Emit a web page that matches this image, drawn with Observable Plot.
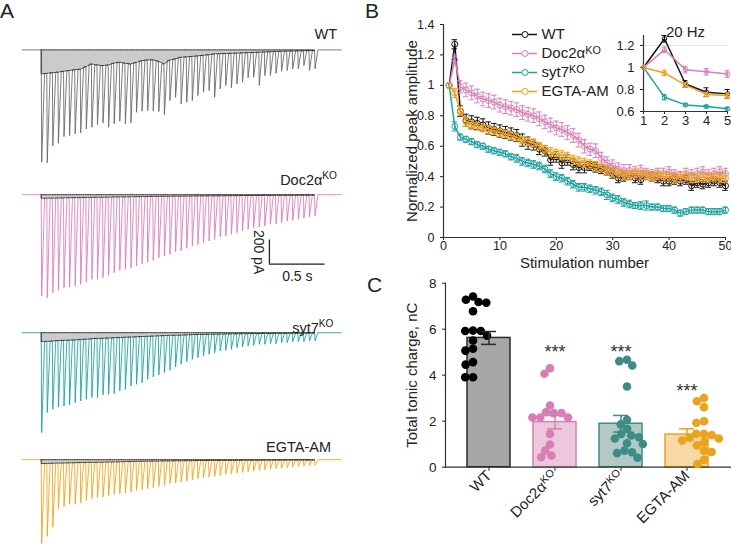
<!DOCTYPE html>
<html><head><meta charset="utf-8">
<script src="https://cdn.jsdelivr.net/npm/d3@7"></script>
<script src="https://cdn.jsdelivr.net/npm/@observablehq/plot@0.6"></script>
<style>
body{margin:0;background:#fff;}
#fig{position:relative;width:731px;height:544px;overflow:hidden;font-family:"Liberation Sans",Arial,Helvetica,sans-serif;color:#222;}
.lbl{position:absolute;font-size:14.5px;line-height:1;white-space:nowrap;}
.panel{position:absolute;font-size:21px;line-height:1;}
sup{font-size:0.7em;line-height:0;vertical-align:0.55em;}
#fig g[aria-label="x-axis label"] text,#fig g[aria-label="y-axis label"] text{font-size:15px;}
</style></head><body><div id="fig"></div>
<script>
// ---------------- DATA ----------------
const groups = ["WT", "Doc2αKO", "syt7KO", "EGTA-AM"];

// Panel A: peak amplitudes (pA) of the 50 responses and tonic (trough) level before each (pA)
const wtPeak = [936,941,800,778,722,714,700,691,658,645, 622,608,645,616,595,616,608,520,511,506,
  511,514,541,422,395,450,436,422,381,353, 339,395,325,297,316,283,270,233,228,297,
  214,214,195,178,172,158,158,131,172,158];
const wtTonic = [200,195,190,185,178,172,165,160,140,117, 125,131,125,110,103,110,117,105,90,83,
  83,95,117,85,75,61,58,54,50,45, 40,33,31,30,28,26,25,23,21,19, 17,15,13,11,10,9,8,7,6,6];
const doc2Peak = [844,858,816,797,775,769,761,747,725,705, 705,691,672,650,630,622,614,594,575,561,
  547,525,511,497,477,469,447,427,413,400, 386,372,352,344,330,317,302,288,275,269,
  261,247,242,233,219,213,205,197,186,177];
const doc2Tonic = [30,29,28,27,26,25,24,24,23,22, 21,21,20,19,18,18,17,16,16,15,
  14,14,13,13,12,12,11,11,10,10, 9,9,9,8,8,8,7,7,7,6, 6,6,5,5,5,5,4,4,4,4];
const syt7Peak = [833,666,638,619,611,602,583,569,555,541, 541,519,513,508,486,472,444,430,417,388,
  369,352,333,313,286,263,242,222,208,194, 180,167,152,147,138,125,119,111,105,97,
  97,92,92,83,83,75,75,75,69,69];
const syt7Tonic = [75,72,69,66,64,62,60,57,54,50, 48,46,44,42,40,38,36,34,32,30,
  28,26,24,22,21,20,18,16,15,14, 13,12,11,10,9,9,8,8,7,7, 6,6,5,5,5,4,4,4,3,3];
const egtaPeak = [700,639,561,408,389,372,372,361,339,325, 317,311,297,289,283,278,270,256,250,242,
  233,222,214,200,195,187,178,167,158,150, 145,139,131,122,117,111,106,100,95,89,
  83,78,75,70,67,62,56,53,50,47];
const egtaTonic = [33,31,29,28,27,26,25,24,23,22, 21,20,19,18,17,16,15,14,13,12,
  12,11,10,10,9,9,8,8,7,7, 6,6,6,5,5,5,4,4,4,4, 3,3,3,3,2,2,2,2,2,2];
const stimHz = 20;
const scaleBar = {t0: 2.045, top: -378, pA: 200, sec: 0.5};

// Panel B: normalized peak amplitude, stimulation 1..50
const stimNumber = d3.range(1, 51);
const wtAmp = [1.00,1.27,0.83,0.77,0.76,0.75,0.74,0.72,0.71,0.70, 0.69,0.68,0.67,0.64,0.62,0.61,0.58,0.57,0.51,0.53,
  0.49,0.51,0.48,0.46,0.46,0.47,0.46,0.45,0.44,0.42, 0.39,0.40,0.41,0.39,0.38,0.41,0.40,0.39,0.37,0.37,
  0.38,0.37,0.38,0.34,0.36,0.35,0.36,0.37,0.36,0.34];
const doc2Amp = [1.00,1.17,0.99,0.97,0.95,0.93,0.91,0.90,0.89,0.87, 0.86,0.85,0.84,0.82,0.81,0.80,0.78,0.76,0.74,0.72,
  0.71,0.69,0.67,0.64,0.60,0.58,0.57,0.52,0.49,0.47, 0.45,0.44,0.44,0.43,0.44,0.42,0.41,0.42,0.42,0.43,
  0.41,0.40,0.42,0.41,0.42,0.43,0.41,0.42,0.43,0.42];
const syt7Amp = [1.00,0.73,0.66,0.645,0.63,0.61,0.60,0.58,0.57,0.56, 0.55,0.53,0.52,0.50,0.49,0.48,0.47,0.45,0.42,0.40,
  0.39,0.37,0.35,0.33,0.33,0.32,0.31,0.30,0.28,0.26, 0.25,0.23,0.22,0.21,0.21,0.21,0.20,0.20,0.19,0.19,
  0.18,0.16,0.17,0.18,0.18,0.18,0.17,0.17,0.17,0.18];
const egtaAmp = [1.00,0.95,0.83,0.76,0.74,0.73,0.72,0.71,0.70,0.69, 0.68,0.67,0.66,0.64,0.63,0.62,0.60,0.58,0.56,0.55,
  0.54,0.53,0.51,0.50,0.49,0.48,0.47,0.46,0.44,0.43, 0.42,0.41,0.41,0.42,0.41,0.41,0.40,0.41,0.40,0.40,
  0.39,0.40,0.40,0.39,0.39,0.40,0.39,0.40,0.39,0.39];
const wtErr = [0,0.03,0.035,0.04,0.04,0.04,0.04,0.04,0.04,0.04, 0.04,0.04,0.04,0.04,0.04,0.035,0.035,0.035,0.035,0.035,
  0.035,0.035,0.035,0.035,0.035,0.03,0.03,0.03,0.03,0.03, 0.03,0.03,0.03,0.03,0.03,0.03,0.03,0.03,0.03,0.03,
  0.03,0.03,0.03,0.03,0.03,0.03,0.03,0.03,0.03,0.03];
const doc2Err = [0,0.03,0.04,0.045,0.045,0.045,0.045,0.045,0.045,0.045, 0.045,0.045,0.045,0.045,0.045,0.045,0.045,0.045,0.045,0.045,
  0.045,0.045,0.045,0.045,0.045,0.04,0.045,0.04,0.04,0.04, 0.04,0.04,0.04,0.035,0.035,0.035,0.035,0.035,0.035,0.035,
  0.035,0.035,0.035,0.035,0.035,0.035,0.035,0.035,0.035,0.035];
const syt7Err = [0,0.03,0.02,0.02,0.02,0.02,0.02,0.02,0.02,0.02, 0.02,0.02,0.025,0.025,0.025,0.025,0.025,0.025,0.025,0.025,
  0.025,0.025,0.025,0.025,0.025,0.025,0.025,0.025,0.03,0.025, 0.025,0.025,0.025,0.02,0.025,0.03,0.02,0.02,0.02,0.02,
  0.02,0.02,0.02,0.02,0.02,0.02,0.02,0.02,0.02,0.02];
const egtaErr = [0,0.03,0.03,0.03,0.03,0.025,0.025,0.025,0.025,0.025, 0.025,0.025,0.025,0.025,0.025,0.025,0.025,0.025,0.03,0.03,
  0.03,0.03,0.03,0.03,0.03,0.03,0.03,0.03,0.03,0.03, 0.03,0.03,0.03,0.03,0.03,0.03,0.03,0.03,0.03,0.03,
  0.03,0.03,0.03,0.03,0.03,0.03,0.03,0.03,0.03,0.03];

// Panel B inset (20 Hz, first 5 stimuli)
const insetStim = [1, 2, 3, 4, 5];
const insetWT = [1, 1.26, 0.85, 0.775, 0.76];
const insetDoc2 = [1, 1.16, 0.98, 0.96, 0.94];
const insetSyt7 = [1, 0.73, 0.66, 0.645, 0.625];
const insetEGTA = [1, 0.95, 0.84, 0.755, 0.745];
const insetWTErr = [0, 0.03, 0.03, 0.04, 0.04];
const insetDoc2Err = [0, 0.025, 0.03, 0.03, 0.03];
const insetSyt7Err = [0, 0.025, 0.012, 0.012, 0.012];
const insetEGTAErr = [0, 0.025, 0.02, 0.02, 0.025];

// Panel C: total tonic charge (nC)
const wtDots = [7.42,7.28,7.18,7.15,6.78,5.94,5.92,5.92,5.72,5.51,5.15,5.07,4.57,4.46,3.91,3.91];
const doc2Dots = [4.30,4.06,2.68,2.39,2.35,2.35,2.16,2.16,2.16,1.45,0.99,0.72,0.51,0.43];
const syt7Dots = [4.67,4.61,4.42,3.51,2.06,1.86,1.67,1.45,1.38,1.30,1.25,1.04,1.01,0.72,0.65,0.61,0.41];
const egtaDots = [3.01,2.87,2.61,2.00,1.93,1.45,1.45,1.40,1.28,1.25,1.16,1.09,0.95,0.72,0.66,0.32,0.14];
const barMeans = [5.62, 1.96, 1.89, 1.42];
const barSems = [0.28, 0.29, 0.36, 0.25];
const stars = ["", "***", "***", "***"];
const starY = [null, 5.02, 5.02, 3.32];

// ---------------- STYLE ----------------
const FONT = '"Liberation Sans", Arial, Helvetica, sans-serif';
const traceColors = ["#666666", "#d97ab6", "#179f9c", "#efa214"];
const lineColors = ["#111111", "#d97fb8", "#1fa3a0", "#f0a11c"];
const barFill = ["#a8a7a8", "#edc8dd", "#b3c9c6", "#f8d8a5"];
const barStroke = ["#2b2b2b", "#d57fb3", "#3f8c86", "#eda120"];
const dotColors = ["#000000", "#d77fb5", "#3d8c86", "#eba21c"];
const baseStyle = {fontFamily: FONT, fontSize: "12.5px", color: "#222", background: "transparent", overflow: "visible"};

const fig = document.getElementById("fig");
function place(node, left, top) {
  node.style.position = "absolute";
  node.style.left = left + "px";
  node.style.top = top + "px";
  fig.appendChild(node);
  return node;
}
function addDiv(cls, html, css) {
  const d = document.createElement("div");
  d.className = cls; d.innerHTML = html;
  Object.assign(d.style, css);
  fig.appendChild(d);
}
function superscriptKO(svg) {
  svg.querySelectorAll("text").forEach(t => {
    if (t.children.length) return;
    const s = t.textContent, i = s.indexOf("KO");
    if (i > 0) {
      t.textContent = s.slice(0, i);
      const ts = document.createElementNS("http://www.w3.org/2000/svg", "tspan");
      ts.setAttribute("dy", "-0.42em");
      ts.setAttribute("font-size", "0.72em");
      ts.textContent = "KO";
      t.appendChild(ts);
    }
  });
  return svg;
}

// ---------------- PANEL A ----------------
const PX_PER_PA = 0.12;
const PRE_START = -0.17, POST_END = 2.69, RISE = 0.004, DECAY = 0.03;
const traceSets = [
  {peak: wtPeak, tonic: wtTonic, baseline: 49.3, hi: 120, lo: -1000},
  {peak: doc2Peak, tonic: doc2Tonic, baseline: 193.7, hi: 60, lo: -900},
  {peak: syt7Peak, tonic: syt7Tonic, baseline: 331.7, hi: 60, lo: -900},
  {peak: egtaPeak, tonic: egtaTonic, baseline: 459.3, hi: 60, lo: -705}
];
function traceRows(peak, tonic) {
  const rows = [{t: PRE_START, v: 0}, {t: 0, v: 0}];
  const n = peak.length;
  for (let k = 0; k < n; k++) {
    const t = k / stimHz;
    if (k > 0) rows.push({t, v: -tonic[k]});
    rows.push({t: t + RISE, v: -peak[k]});
    rows.push({t: t + DECAY, v: k < n - 1 ? -tonic[k + 1] : 0});
  }
  rows.push({t: POST_END, v: 0});
  return rows;
}
traceSets.forEach((s, i) => {
  const pts = s.tonic.map((v, k) => ({t: k / stimHz, v: -v}));
  const tEnd = (s.tonic.length - 1) / stimHz;
  const outline = [{t: 0, v: 0}, {t: tEnd, v: 0}, ...pts.slice().reverse(), {t: 0, v: 0}];
  const marks = [
    Plot.areaY(pts, {x: "t", y1: 0, y2: "v", fill: "#cbcbcb"}),
    Plot.line(traceRows(s.peak, s.tonic), {x: "t", y: "v", stroke: traceColors[i], strokeWidth: 0.85}),
    Plot.line(outline, {x: "t", y: "v", stroke: "#222", strokeWidth: 0.9, strokeDasharray: "1.2,1"})
  ];
  if (i === 1) {
    marks.push(
      Plot.ruleX([scaleBar], {x: "t0", y1: "top", y2: d => d.top - d.pA, stroke: "#222", strokeWidth: 1.3}),
      Plot.ruleY([scaleBar], {y: d => d.top - d.pA, x1: "t0", x2: d => d.t0 + d.sec, stroke: "#222", strokeWidth: 1.3}),
      Plot.text([scaleBar], {x: "t0", y: d => d.top - d.pA / 2, dx: -11, rotate: 90, text: d => `${d.pA} pA`, fontSize: 14, fill: "#222"}),
      Plot.text([scaleBar], {x: d => d.t0 + d.sec / 2, y: d => d.top - d.pA, dy: 12, text: d => `${d.sec} s`, fontSize: 14, fill: "#222"})
    );
  }
  const svg = Plot.plot({
    width: 360, height: (s.hi - s.lo) * PX_PER_PA,
    marginLeft: 18.4, marginRight: 18, marginTop: 0, marginBottom: 0,
    style: baseStyle,
    x: {domain: [-0.2, 2.7], axis: null},
    y: {domain: [s.lo, s.hi], axis: null},
    marks
  });
  place(svg, 0, s.baseline - s.hi * PX_PER_PA);
});
addDiv("lbl", "WT", {right: "394px", top: "27.4px"});
addDiv("lbl", "Doc2α<sup>KO</sup>", {right: "394px", top: "173px"});
addDiv("lbl", "syt7<sup>KO</sup>", {right: "397.5px", top: "320.5px"});
addDiv("lbl", "EGTA-AM", {right: "400px", top: "439.8px"});

// ---------------- PANEL B ----------------
const bVals = [wtAmp, doc2Amp, syt7Amp, egtaAmp];
const bErrs = [wtErr, doc2Err, syt7Err, egtaErr];
const bMarks = [Plot.ruleX([0], {stroke: "#333", strokeWidth: 1.2}), Plot.ruleY([0], {stroke: "#333", strokeWidth: 1.2})];
groups.forEach((g, i) => {
  const rows = stimNumber.map((n, k) => ({n, v: bVals[i][k], e: bErrs[i][k]}));
  const er = rows.filter(d => d.e > 0);
  bMarks.push(
    Plot.ruleX(er, {x: "n", y1: d => d.v - d.e, y2: d => d.v + d.e, stroke: lineColors[i], strokeWidth: 1}),
    Plot.ruleY(er, {y: d => d.v + d.e, x1: d => d.n - 0.5, x2: d => d.n + 0.5, stroke: lineColors[i], strokeWidth: 1}),
    Plot.ruleY(er, {y: d => d.v - d.e, x1: d => d.n - 0.5, x2: d => d.n + 0.5, stroke: lineColors[i], strokeWidth: 1}),
    Plot.line(rows, {x: "n", y: "v", stroke: lineColors[i], strokeWidth: 1.5}),
    Plot.dot(rows, {x: "n", y: "v", r: 3, stroke: lineColors[i], strokeWidth: 1, fill: "none"})
  );
});
const fmt = d => String(+(+d).toFixed(2));
const bMain = Plot.plot({
  width: 371, height: 280, marginLeft: 83, marginRight: 6, marginTop: 24, marginBottom: 43,
  style: baseStyle,
  x: {domain: [0, 50], ticks: [0, 10, 20, 30, 40, 50], tickFormat: fmt, tickSize: 3, tickPadding: 1, label: "Stimulation number", labelAnchor: "center", labelOffset: 30, labelArrow: "none"},
  y: {domain: [0, 1.4], ticks: [0, 0.2, 0.4, 0.6, 0.8, 1, 1.2, 1.4], tickFormat: fmt, tickSize: 3, label: "Normalized peak amplitude", labelAnchor: "center", labelOffset: 37, labelArrow: "none"},
  marks: bMarks
});
place(bMain, 360, 0);

// legend
const legend = Plot.plot({
  width: 130, height: 88, marginLeft: 7, marginRight: 98, marginTop: 14, marginBottom: 17,
  style: baseStyle,
  x: {domain: [0, 1], axis: null},
  y: {domain: groups, type: "point", padding: 0, axis: null},
  color: {domain: groups, range: lineColors},
  marks: [
    Plot.ruleY(groups, {y: d => d, x1: 0, x2: 1, stroke: d => d, strokeWidth: 1.5}),
    Plot.dot(groups, {x: 0.5, y: d => d, r: 3, stroke: d => d, fill: "white", strokeWidth: 1}),
    Plot.text(groups, {x: 1, y: d => d, text: d => d, dx: 4, textAnchor: "start", fontSize: 15, fill: "#222"})
  ]
});
place(superscriptKO(legend), 505, 20);

// inset
const iVals = [insetWT, insetDoc2, insetSyt7, insetEGTA];
const iErrs = [insetWTErr, insetDoc2Err, insetSyt7Err, insetEGTAErr];
const iMarks = [Plot.ruleY([1.2], {stroke: "#e2e2e2", strokeWidth: 1}),
  Plot.ruleX([1], {stroke: "#333", strokeWidth: 1.2}), Plot.ruleY([0.6], {stroke: "#333", strokeWidth: 1.2})];
groups.forEach((g, i) => {
  const rows = insetStim.map((n, k) => ({n, v: iVals[i][k], e: iErrs[i][k]}));
  const er = rows.filter(d => d.e > 0);
  iMarks.push(
    Plot.ruleX(er, {x: "n", y1: d => d.v - d.e, y2: d => d.v + d.e, stroke: lineColors[i], strokeWidth: 1}),
    Plot.ruleY(er, {y: d => d.v + d.e, x1: d => d.n - 0.12, x2: d => d.n + 0.12, stroke: lineColors[i], strokeWidth: 1}),
    Plot.ruleY(er, {y: d => d.v - d.e, x1: d => d.n - 0.12, x2: d => d.n + 0.12, stroke: lineColors[i], strokeWidth: 1}),
    Plot.line(rows, {x: "n", y: "v", stroke: lineColors[i], strokeWidth: 1.5}),
    Plot.dot(rows, {x: "n", y: "v", r: 2.2, stroke: lineColors[i], strokeWidth: 1, fill: "none"})
  );
});
iMarks.push(Plot.text(["20 Hz"], {frameAnchor: "top", dy: -9, text: d => d, fontSize: 15, fill: "#222"}));
const inset = Plot.plot({
  width: 151, height: 130, marginLeft: 63, marginRight: 4, marginTop: 35, marginBottom: 19,
  style: {...baseStyle, fontSize: "13px"},
  x: {domain: [1, 5], ticks: [1, 2, 3, 4, 5], tickFormat: fmt, tickSize: 3, tickPadding: 1.5, label: null},
  y: {domain: [0.6, 1.29], ticks: [0.6, 0.8, 1, 1.2], tickFormat: fmt, tickSize: 3, label: null},
  marks: iMarks
});
place(inset, 580, 0);

// ---------------- PANEL C ----------------
const C_GEOM = {width: 371, height: 274, marginLeft: 85, marginRight: 1, marginTop: 12.7, marginBottom: 77.3};
const barRows = groups.map((g, i) => ({group: g, mean: barMeans[i], sem: barSems[i], star: stars[i], sy: starY[i]}));
const dotRows = [wtDots, doc2Dots, syt7Dots, egtaDots].flatMap((vals, i) => vals.map(value => ({group: groups[i], value})));

const cMain = Plot.plot({
  ...C_GEOM, style: {...baseStyle, fontSize: "13.5px"},
  x: {domain: groups, padding: 0.318, tickRotate: -45, tickSize: 4, tickPadding: 2, label: null},
  y: {domain: [0, 8], ticks: [0, 2, 4, 6, 8], tickSize: 3, label: "Total tonic charge, nC", labelAnchor: "center", labelOffset: 39, labelArrow: "none"},
  marks: [
    ...groups.map((g, i) => Plot.barY(barRows.filter(d => d.group === g), {x: "group", y: "mean", fill: barFill[i], stroke: barStroke[i], strokeWidth: 1.5, insetLeft: 1, insetRight: 1})),
    Plot.frame({anchor: "left", stroke: "#333", strokeWidth: 1.2}),
    Plot.frame({anchor: "bottom", stroke: "#333", strokeWidth: 1.2})
  ]
});
cMain.querySelectorAll('g[aria-label="x-axis tick label"] text').forEach(t => t.setAttribute("font-size", "15px"));
place(superscriptKO(cMain), 360, 270);

const cDots = Plot.plot({
  ...C_GEOM, style: baseStyle,
  facet: {data: dotRows, x: "group"},
  fx: {domain: groups, padding: 0.318, axis: null},
  y: {domain: [0, 8], axis: null},
  color: {domain: groups, range: dotColors},
  marks: [Plot.dot(dotRows, {...Plot.dodgeX("middle", {y: "value", r: 3.4, fill: "group", padding: 0}), r: 4.3})]
});
place(cDots, 360, 270);

const cErr = Plot.plot({
  ...C_GEOM, style: baseStyle,
  x: {domain: groups, padding: 0.318, axis: null},
  y: {domain: [0, 8], axis: null},
  marks: [
    ...groups.map((g, i) => {
      const r = barRows.filter(d => d.group === g);
      return [
        Plot.ruleX(r, {x: "group", y1: d => d.mean - d.sem, y2: d => d.mean + d.sem, stroke: barStroke[i], strokeWidth: 1.5}),
        Plot.tickY(r, {x: "group", y: d => d.mean - d.sem, stroke: barStroke[i], strokeWidth: 1.5, insetLeft: 15, insetRight: 15}),
        Plot.tickY(r, {x: "group", y: d => d.mean + d.sem, stroke: barStroke[i], strokeWidth: 1.5, insetLeft: 15, insetRight: 15})
      ];
    }),
    Plot.text(barRows.filter(d => d.star), {x: "group", y: "sy", text: "star", fontSize: 18, fill: "#333"})
  ]
});
place(cErr, 360, 270);

// panel letters
addDiv("panel", "A", {left: "0px", top: "0px"});
addDiv("panel", "B", {left: "365px", top: "0px"});
addDiv("panel", "C", {left: "367px", top: "274.3px"});
</script></body></html>
